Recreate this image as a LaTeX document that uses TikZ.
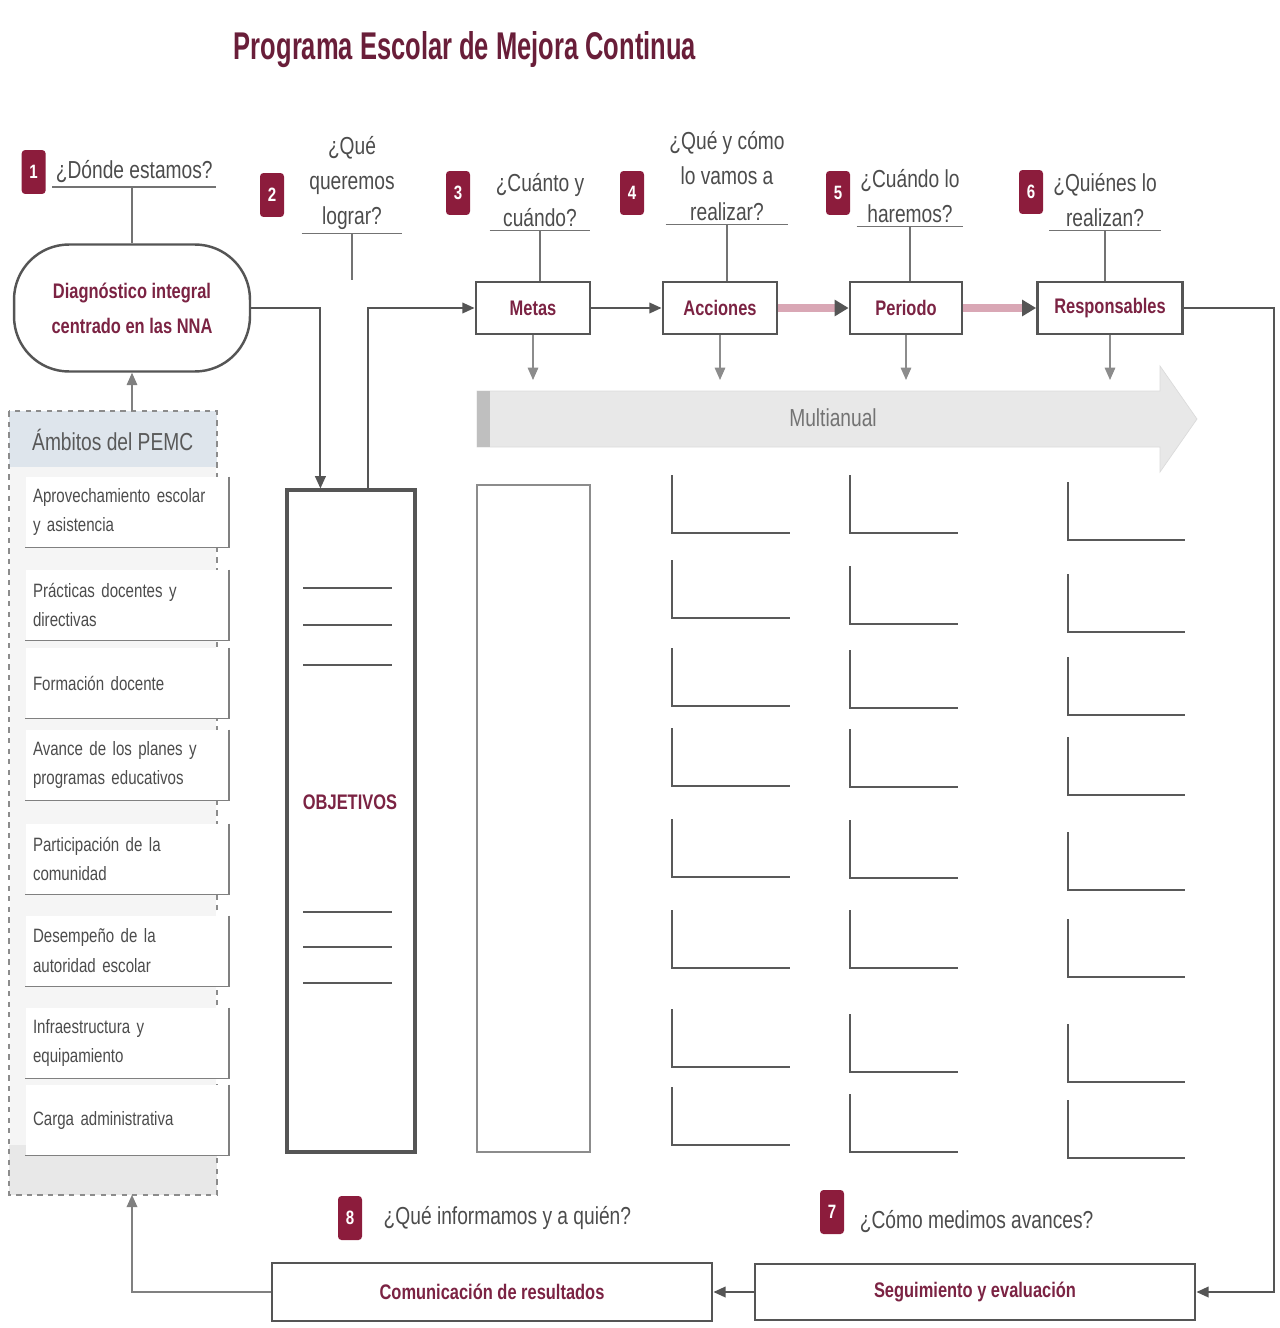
\documentclass[tikz,border=0pt]{standalone}
\usepackage{fontspec}
\setmainfont{Liberation Sans}[FakeStretch=0.78]
\newfontfamily\titlefont{Liberation Sans}[FakeStretch=0.66]
\usetikzlibrary{positioning,arrows.meta}

\definecolor{guinda}{HTML}{8C1C3C}
\definecolor{guindatxt}{HTML}{7B2343}
\definecolor{rosa}{HTML}{D9A7B5}
\definecolor{linea}{HTML}{555555}
\definecolor{encab}{HTML}{DEE5EC}

\tikzset{
  badge/.style={fill=guinda, rounded corners=2pt, minimum width=0.48cm, minimum height=0.88cm, inner sep=0pt, text=white, font=\bfseries\fontsize{11}{12}\selectfont},
  pregunta/.style={align=center, minimum width=2cm, inner sep=2pt, text=black!70, font=\fontsize{14}{20}\selectfont},
  etapa/.style={draw=linea, line width=1.6pt, minimum height=1.04cm, inner sep=2pt, text=guindatxt, font=\bfseries\fontsize{12}{14}\selectfont},
  conector/.style={draw=linea, line width=1.2pt, -{Triangle[length=7pt,width=6pt]}},
  rosaflecha/.style={draw=rosa, line width=4pt, -{Triangle[length=8pt,width=9pt,color=linea]}},
  guia/.style={draw=black!55, line width=0.6pt},
  ambito/.style={fill=white, text width=3.76cm, inner xsep=0.15cm, minimum height=1.4cm, align=left, text=black!70, font=\fontsize{11}{17}\selectfont},
  renglon/.style={draw=black!65, line width=1.2pt},
}

\begin{document}
\begin{tikzpicture}[x=0.02cm, y=-0.02cm]
\useasboundingbox (0,0) rectangle (1279,1328);

\node[font=\titlefont\bfseries\fontsize{22}{26}\selectfont, text=guindatxt!85!black] (titulo) at (465,50) {Programa Escolar de Mejora Continua};

\node[pregunta, anchor=west, minimum width=0pt] (q1) at (52,172) {¿Dónde estamos?};
\node[badge, left=0.12cm of q1] (b1) {1};
\node[pregunta] (q2) at (352,183) {¿Qué\\queremos\\lograr?};
\node[badge] (b2) at (272,195) {2};
\node[pregunta] (q3) at (540,200) {¿Cuánto y\\cuándo?};
\node[badge] (b3) at (458,193) {3};
\node[pregunta] (q4) at (727,176) {¿Qué y cómo\\lo vamos a\\realizar?};
\node[badge] (b4) at (632,193) {4};
\node[pregunta] (q5) at (910,196) {¿Cuándo lo\\haremos?};
\node[badge] (b5) at (838,193) {5};
\node[pregunta] (q6) at (1105,200) {¿Quiénes lo\\realizan?};
\node[badge] (b6) at (1031,192) {6};

\node[draw=linea, line width=1.4pt, rounded corners=1.1cm, minimum width=4.72cm, minimum height=2.54cm, align=center, text=guindatxt, font=\bfseries\fontsize{12}{20}\selectfont] (diag) at (132,308) {Diagnóstico integral\\centrado en las NNA};

\node[etapa, minimum width=2.28cm] (metas) at (533,308) {Metas};
\node[etapa, minimum width=2.28cm] (acc) at (720,308) {Acciones};
\node[etapa, minimum width=2.24cm] (per) at (906,308) {Periodo};
\node[etapa, minimum width=2.9cm] (resp) at (1110,308) {Responsables};

\foreach \q in {1,...,6}
  \draw[guia] (q\q.south west) -- (q\q.south east);
\coordinate (q2fin) at (352,280);
\draw[guia] (diag.north |- q1.south) -- (diag.north);
\draw[guia] (q2.south) -- (q2fin);
\draw[guia] (q3.south) -- (q3.south |- metas.north);
\draw[guia] (q4.south) -- (q4.south |- acc.north);
\draw[guia] (q5.south) -- (q5.south |- per.north);
\draw[guia] (q6.south) -- (q6.south |- resp.north);

\node[minimum width=4.14cm, minimum height=15.66cm, inner sep=0pt, fill=black!4] (panel) at (113,803) {};
\fill[encab] (panel.north west) rectangle ([yshift=-1.12cm]panel.north east);
\fill[black!9] ([yshift=1cm]panel.south west) rectangle (panel.south east);
\draw[black!45, dashed, line width=1pt] (panel.north west) rectangle (panel.south east);
\node[text=black!65, font=\fontsize{14}{16}\selectfont, anchor=west] (ambtit) at (26,440) {Ámbitos del PEMC};

\node[ambito] (amb1) at (127,512) {Aprovechamiento escolar\\y asistencia};
\node[ambito] (amb2) at (127,605) {Prácticas docentes y\\directivas};
\node[ambito] (amb3) at (127,683) {Formación docente};
\node[ambito] (amb4) at (127,765) {Avance de los planes y\\programas educativos};
\node[ambito] (amb5) at (127,859) {Participación de la\\comunidad};
\node[ambito] (amb6) at (127,951) {Desempeño de la\\autoridad escolar};
\node[ambito] (amb7) at (127,1043) {Infraestructura y\\equipamiento};
\node[ambito] (amb8) at (127,1120) {Carga administrativa};
\foreach \n in {1,...,8}
  \draw[black!50, line width=0.8pt] (amb\n.north east) |- (amb\n.south west);

\draw[conector, draw=black!50, line width=0.8pt] (diag.south |- panel.north) -- (diag.south);

\node[draw=linea, line width=1.8pt, minimum width=2.56cm, minimum height=13.24cm] (obj) at (351,821) {};
\node[text=guindatxt, font=\bfseries\fontsize{12}{14}\selectfont] (objtxt) at (350,802) {OBJETIVOS};
\foreach \yy in {588,625,665,912,947,983}
  \draw[renglon, line width=1pt] (303,\yy) -- (392,\yy);
\coordinate (objin) at ([xshift=0.7cm]obj.north west);
\coordinate (objout) at ([xshift=1.66cm]obj.north west);

\draw[conector] (diag.east) -| (objin);
\draw[conector] (objout) |- (metas.west);
\draw[conector] (metas.east) -- (acc.west);
\draw[rosaflecha] (acc.east) -- (per.west);
\draw[rosaflecha] (per.east) -- (resp.west);

\fill[black!9, draw=black!14] (477,391) -- (1160,391) -- (1160,366) -- (1197,419) -- (1160,472) -- (1160,447) -- (477,447) -- cycle;
\fill[black!25] (477,391) rectangle (490,447);
\node[text=black!55, font=\fontsize{14}{16}\selectfont] (multi) at (833,418) {Multianual};
\coordinate (mtop) at (833,380);
\foreach \nd in {metas,acc,per,resp}
  \draw[conector, draw=black!45, line width=0.7pt] (\nd.south) -- (\nd.south |- mtop);

\node[draw=black!45, line width=1pt, minimum width=2.26cm, minimum height=13.34cm] (metascol) at (533.5,818.5) {};

\foreach \xa/\xb/\ys in {672/790/{533,618,706,786,877,968,1067,1145},850/958/{533,624,708,787,878,968,1072,1152},1068/1185/{540,632,715,795,890,977,1082,1158}}
  \foreach \yb in \ys
    \draw[renglon] (\xa,\yb-58) |- (\xb,\yb);

\node[etapa, minimum width=8.8cm, minimum height=1.16cm] (com) at (492,1292) {Comunicación de resultados};
\node[etapa, minimum width=8.8cm, minimum height=1.12cm] (seg) at (975,1292) {Seguimiento y evaluación};
\node[badge] (b8) at (350,1218) {8};
\node[pregunta, right=0.35cm of b8, minimum width=0pt] (q8) {¿Qué informamos y a quién?};
\node[badge] (b7) at (832,1212) {7};
\node[pregunta, anchor=west, minimum width=0pt] (q7) at (856,1222) {¿Cómo medimos avances?};

\coordinate (vuelta) at (1274,300);
\draw[conector] (resp.east) -- (resp.east -| vuelta) |- (seg.east);
\draw[conector] (seg.west) -- (com.east);
\draw[conector, draw=black!50, line width=1pt] (com.west) -| (diag.south |- panel.south);
\end{tikzpicture}
\end{document}
